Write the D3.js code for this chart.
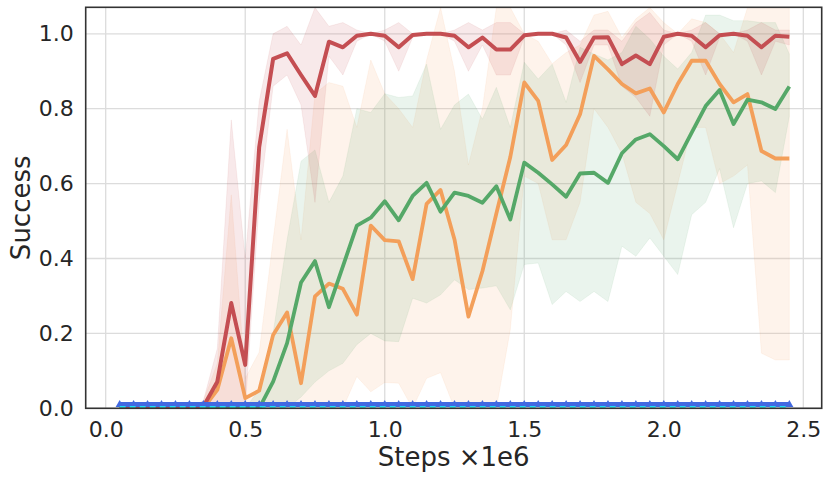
<!DOCTYPE html>
<html>
<head>
<meta charset="utf-8">
<script src="https://cdn.jsdelivr.net/npm/d3@7"></script>
<style>
  body { margin: 0; background: #fff; }
  text { font-family: "DejaVu Sans", sans-serif; fill: #262626; }
</style>
</head>
<body>
<div id="chart"></div>
<script>
var width = 830;
var height = 481;

// steps (x 1e6)
var steps = [0.05, 0.10, 0.15, 0.20, 0.25, 0.30, 0.35, 0.40, 0.45, 0.50,
             0.55, 0.60, 0.65, 0.70, 0.75, 0.80, 0.85, 0.90, 0.95, 1.00,
             1.05, 1.10, 1.15, 1.20, 1.25, 1.30, 1.35, 1.40, 1.45, 1.50,
             1.55, 1.60, 1.65, 1.70, 1.75, 1.80, 1.85, 1.90, 1.95, 2.00,
             2.05, 2.10, 2.15, 2.20, 2.25, 2.30, 2.35, 2.40, 2.45];

var redMean = [0, 0, 0, 0, 0, 0, 0.005, 0.071, 0.281, 0.116,
               0.697, 0.933, 0.948, 0.89, 0.834, 0.979, 0.964, 0.995, 1.0, 0.995,
               0.964, 0.997, 1.0, 1.0, 0.995, 0.964, 0.99, 0.958, 0.958, 0.996,
               1.0, 1.0, 0.99, 0.925, 0.99, 0.991, 0.919, 0.942, 0.919, 0.992,
               1.0, 0.995, 0.964, 0.996, 1.0, 0.995, 0.964, 0.995, 0.992];
var redLo = [0, 0, 0, 0, 0, 0, 0, 0, 0, 0,
             0.55, 0.86, 0.89, 0.81, 0.55, 0.94, 0.89, 0.98, 1.0, 0.98,
             0.90, 0.99, 1.0, 1.0, 0.98, 0.90, 0.97, 0.89, 0.89, 0.99,
             1.0, 1.0, 0.97, 0.87, 0.97, 0.97, 0.86, 0.83, 0.78, 0.97,
             1.0, 0.98, 0.89, 0.99, 1.0, 0.98, 0.89, 0.98, 0.97];
var redHi = [0, 0, 0, 0, 0, 0, 0.02, 0.16, 0.77, 0.40,
             0.82, 1.0, 1.02, 0.97, 1.07, 1.02, 1.03, 1.01, 1.0, 1.01,
             1.03, 1.0, 1.0, 1.0, 1.01, 1.03, 1.01, 1.03, 1.03, 1.0,
             1.0, 1.0, 1.01, 0.98, 1.01, 1.01, 0.98, 1.03, 1.057, 1.01,
             1.0, 1.01, 1.03, 1.0, 1.0, 1.01, 1.03, 1.01, 1.01];

var orangeMean = [0, 0, 0, 0, 0, 0, 0.0, 0.049, 0.187, 0.027,
                  0.047, 0.196, 0.256, 0.067, 0.299, 0.333, 0.319, 0.25, 0.488, 0.449,
                  0.446, 0.345, 0.546, 0.583, 0.451, 0.245, 0.366, 0.52, 0.671, 0.87,
                  0.821, 0.663, 0.703, 0.785, 0.941, 0.905, 0.866, 0.841, 0.854, 0.79,
                  0.866, 0.928, 0.928, 0.866, 0.817, 0.839, 0.687, 0.667, 0.667];
var orangeLo = [0, 0, 0, 0, 0, 0, 0, 0, 0, 0,
                0, 0, 0, 0, 0, 0, 0, 0.085, 0.044, 0.069,
                0.067, 0, 0.08, 0.095, 0, 0, 0, 0, 0.21, 0.62,
                0.60, 0.45, 0.45, 0.55, 0.80, 0.75, 0.68, 0.55, 0.52, 0.45,
                0.60, 0.75, 0.75, 0.60, 0.62, 0.65, 0.147, 0.129, 0.129];
var orangeHi = [0, 0, 0, 0, 0, 0, 0.02, 0.12, 0.57, 0.08,
                0.15, 0.45, 0.745, 0.45, 0.84, 0.87, 0.86, 0.75, 0.93, 0.84,
                0.80, 0.75, 0.93, 1.07, 0.90, 0.65, 0.80, 1.07, 1.07, 1.0,
                0.98, 0.92, 0.95, 0.97, 1.05, 1.06, 0.99, 1.04, 1.07, 1.03,
                1.0, 1.04, 1.03, 1.0, 0.95, 1.07, 1.07, 1.07, 1.07];

var greenMean = [0, 0, 0, 0, 0, 0, 0, 0, 0, 0,
                 0.0, 0.071, 0.174, 0.336, 0.393, 0.27, 0.379, 0.488, 0.509, 0.553,
                 0.502, 0.567, 0.602, 0.525, 0.576, 0.567, 0.549, 0.593, 0.504, 0.656,
                 0.629, 0.598, 0.565, 0.627, 0.629, 0.602, 0.681, 0.718, 0.732, 0.70,
                 0.665, 0.736, 0.807, 0.85, 0.759, 0.824, 0.817, 0.799, 0.859];
var greenLo = [0, 0, 0, 0, 0, 0, 0, 0, 0, 0,
               0, 0, 0, 0.03, 0.07, 0.10, 0.12, 0.17, 0.20, 0.18,
               0.178, 0.294, 0.281, 0.303, 0.343, 0.317, 0.321, 0.327, 0.263, 0.384,
               0.388, 0.277, 0.312, 0.285, 0.312, 0.285, 0.433, 0.406, 0.455, 0.406,
               0.357, 0.517, 0.55, 0.64, 0.482, 0.60, 0.607, 0.576, 0.78];
var greenHi = [0, 0, 0, 0, 0, 0, 0, 0, 0, 0,
               0.05, 0.20, 0.45, 0.66, 0.69, 0.55, 0.62, 0.80, 0.79, 0.84,
               0.83, 0.834, 0.919, 0.745, 0.81, 0.839, 0.772, 0.857, 0.75, 0.924,
               0.879, 0.919, 0.817, 0.964, 0.946, 0.93, 0.95, 1.02, 0.986, 0.94,
               0.906, 0.95, 1.05, 1.05, 1.035, 1.035, 1.03, 1.03, 0.946];

var blueMean = [0.01, 0.01, 0.01, 0.01, 0.01, 0.01, 0.01, 0.01, 0.01, 0.01,
                0.01, 0.01, 0.01, 0.01, 0.01, 0.01, 0.01, 0.01, 0.01, 0.01,
                0.01, 0.01, 0.01, 0.01, 0.01, 0.01, 0.01, 0.01, 0.01, 0.01,
                0.01, 0.01, 0.01, 0.01, 0.01, 0.01, 0.01, 0.01, 0.01, 0.01,
                0.01, 0.01, 0.01, 0.01, 0.01, 0.01, 0.01, 0.01, 0.01];
var cyanMean = [0.004, 0.004, 0.004, 0.004, 0.004, 0.004, 0.004, 0.004, 0.004, 0.004,
                0.004, 0.004, 0.004, 0.004, 0.004, 0.004, 0.004, 0.004, 0.004, 0.004,
                0.004, 0.004, 0.004, 0.004, 0.004, 0.004, 0.004, 0.004, 0.004, 0.004,
                0.004, 0.004, 0.004, 0.004, 0.004, 0.004, 0.004, 0.004, 0.004, 0.004,
                0.004, 0.004, 0.004, 0.004, 0.004, 0.004, 0.004, 0.004, 0.004];

var xTicks = [0.0, 0.5, 1.0, 1.5, 2.0, 2.5];
var yTicks = [0.0, 0.2, 0.4, 0.6, 0.8, 1.0];

// plot frame
var plotLeft = 85.7, plotRight = 821.7, plotTop = 7.3, plotBottom = 408.3;

var svg = d3.select("#chart")
            .append("svg")
            .attr("width", width)
            .attr("height", height);

var x = d3.scaleLinear()
    .domain([0, 2.5])
    .range([105.7, 803.3]);

var y = d3.scaleLinear()
    .domain([0, 1])
    .range([plotBottom, 33.8]);

svg.append("clipPath")
    .attr("id", "plot-clip")
    .append("rect")
    .attr("x", plotLeft)
    .attr("y", plotTop)
    .attr("width", plotRight - plotLeft)
    .attr("height", plotBottom - plotTop);

// grid
var grid = svg.append("g");
grid.selectAll(".vgrid")
    .data(xTicks)
    .enter()
    .append("line")
    .attr("x1", function(d) { return x(d); })
    .attr("x2", function(d) { return x(d); })
    .attr("y1", plotTop)
    .attr("y2", plotBottom)
    .attr("stroke", "#dcdcdc")
    .attr("stroke-width", 1.3);
grid.selectAll(".hgrid")
    .data(yTicks)
    .enter()
    .append("line")
    .attr("x1", plotLeft)
    .attr("x2", plotRight)
    .attr("y1", function(d) { return y(d); })
    .attr("y2", function(d) { return y(d); })
    .attr("stroke", "#dcdcdc")
    .attr("stroke-width", 1.3);

var plot = svg.append("g").attr("clip-path", "url(#plot-clip)");

var series = [
    { mean: orangeMean, lo: orangeLo, hi: orangeHi, color: "#f39f5a", width: 3.8 },
    { mean: greenMean, lo: greenLo, hi: greenHi, color: "#55a868", width: 3.8 },
    { mean: redMean, lo: redLo, hi: redHi, color: "#c44e52", width: 4 }
];

var area = d3.area()
    .x(function(d) { return x(d.x); })
    .y0(function(d) { return y(d.lo); })
    .y1(function(d) { return y(d.hi); });

var line = d3.line()
    .x(function(d) { return x(d.x); })
    .y(function(d) { return y(d.y); });

// bands
series.forEach(function(s) {
    var pts = steps.map(function(v, i) { return { x: v, lo: s.lo[i], hi: s.hi[i] }; });
    plot.append("path")
        .datum(pts)
        .attr("d", area)
        .attr("fill", s.color)
        .attr("fill-opacity", 0.12)
        .attr("stroke", s.color)
        .attr("stroke-opacity", 0.08);
});

// mean lines
series.forEach(function(s) {
    var pts = steps.map(function(v, i) { return { x: v, y: s.mean[i] }; });
    plot.append("path")
        .datum(pts)
        .attr("d", line)
        .attr("fill", "none")
        .attr("stroke", s.color)
        .attr("stroke-width", s.width)
        .attr("stroke-linejoin", "round");
});

// blue line with triangles
var bluePts = steps.map(function(v, i) { return { x: v, y: blueMean[i] }; });
plot.append("path")
    .datum(bluePts)
    .attr("d", line)
    .attr("fill", "none")
    .attr("stroke", "#4169e1")
    .attr("stroke-width", 5);
plot.selectAll(".tri")
    .data(bluePts)
    .enter()
    .append("path")
    .attr("d", d3.symbol().type(d3.symbolTriangle).size(28))
    .attr("transform", function(d) { return "translate(" + x(d.x) + "," + y(d.y) + ")"; })
    .attr("fill", "#4169e1");

// cyan dashed baseline on top
var cyanPts = steps.map(function(v, i) { return { x: v, y: cyanMean[i] }; });
plot.append("path")
    .datum(cyanPts)
    .attr("d", line)
    .attr("fill", "none")
    .attr("stroke", "#19e0f5")
    .attr("stroke-width", 1.8)
    .attr("stroke-dasharray", "6,4");

// frame
svg.append("rect")
    .attr("x", plotLeft)
    .attr("y", plotTop)
    .attr("width", plotRight - plotLeft)
    .attr("height", plotBottom - plotTop)
    .attr("fill", "none")
    .attr("stroke", "#333")
    .attr("stroke-width", 1.6);

// axes
var xAxis = svg.append("g")
    .attr("transform", "translate(0," + plotBottom + ")")
    .call(d3.axisBottom(x).tickValues(xTicks).tickFormat(d3.format(".1f"))
        .tickSize(0).tickPadding(13));
var yAxis = svg.append("g")
    .attr("transform", "translate(" + plotLeft + ",0)")
    .call(d3.axisLeft(y).tickValues(yTicks).tickFormat(d3.format(".1f"))
        .tickSize(0).tickPadding(12));
[xAxis, yAxis].forEach(function(a) {
    a.select(".domain").remove();
    a.selectAll("text")
        .attr("fill", "#262626")
        .style("font-size", "22px")
        .style("font-family", "DejaVu Sans");
});

svg.append("text")
    .attr("x", (plotLeft + plotRight) / 2)
    .attr("y", 466)
    .attr("text-anchor", "middle")
    .style("font-size", "26px")
    .text("Steps ×1e6");

svg.append("text")
    .attr("transform", "translate(30," + ((plotTop + plotBottom) / 2) + ") rotate(-90)")
    .attr("text-anchor", "middle")
    .style("font-size", "26px")
    .text("Success");
</script>
</body>
</html>
